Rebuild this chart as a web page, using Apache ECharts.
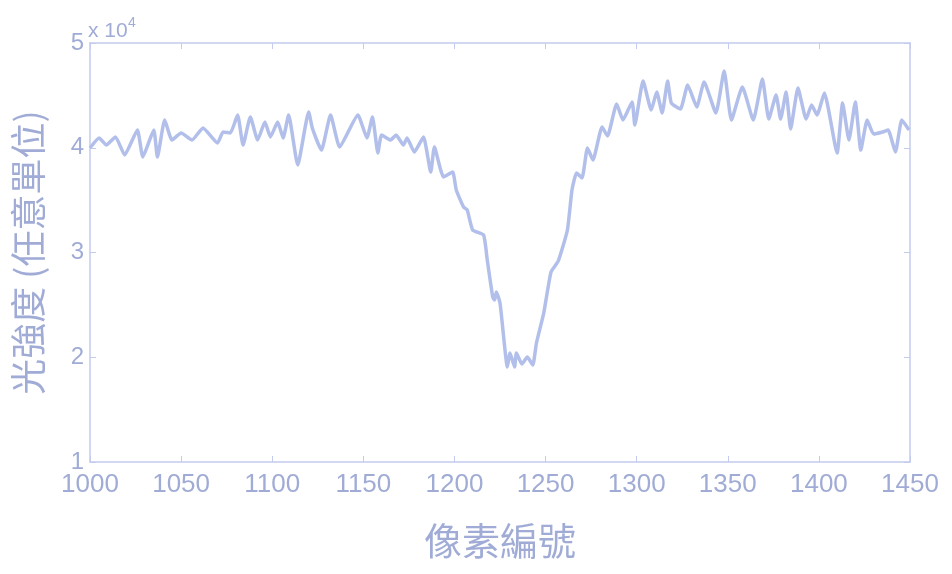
<!DOCTYPE html>
<html>
<head>
<meta charset="utf-8">
<script src="https://cdn.jsdelivr.net/npm/echarts@6/dist/echarts.min.js"></script>
<style>
html,body{margin:0;padding:0;background:#fff;}
#chart{width:952px;height:574px;}
</style>
</head>
<body>
<div id="chart"></div>
<script>
// pixel index (x) and light intensity (y, arbitrary units)
const pixelIndex = [1000,1005,1009,1014,1019,1026,1029,1035,1037,1041,1045,1050,1056,1062,1070,1073,1077,1081,1084,1088,1092,1096,1099,1103,1106,1109,1114,1120,1122,1127,1132,1137,1147,1152,1155,1158,1160,1165,1168,1172,1174,1178,1183,1187,1189,1194,1199,1201,1205,1207,1210,1216,1218,1221,1222,1223,1225,1227,1229,1230.5,1233,1234,1237,1240,1243,1245,1249,1253,1257,1262,1264.5,1267,1270,1273,1276,1281,1284,1289,1292.5,1297.5,1299,1303.5,1308,1311,1314,1317,1319,1324,1328,1333,1337,1343.5,1348,1352,1358,1364,1369,1372.5,1376.5,1379,1382,1384.5,1388.5,1393,1396,1399,1403,1410,1413,1416.5,1420,1423,1426.5,1430,1435,1438,1442,1445.5,1449.5];
const intensity = [39980,40930,40260,41030,39310,41690,39120,41690,39120,42650,40740,41410,40740,41890,40450,41500,41410,43130,40260,42940,40740,42460,41030,42460,40930,43130,38350,43410,41890,39780,43130,40070,43130,40930,42940,39500,41220,40740,41220,40260,40930,39590,41030,37680,40070,37210,37680,35970,34340,34060,32150,31670,29280,25750,25460,26230,25180,21930,19070,20400,19070,20400,19350,20020,19260,21360,24220,28140,29190,32150,35970,37590,37110,39980,38830,41980,41120,44180,42650,44370,42170,46370,43600,45320,43320,46370,44270,43700,45990,43890,46280,43320,47330,42650,45800,42650,46560,42740,45040,42740,45320,41790,45700,42740,44080,43130,45230,39500,44270,40740,44370,39780,42650,41310,41500,41690,39590,42650,41690];

const xTicks = {min:1000, max:1450, interval:50};
const yTicks = {min:10000, max:50000, interval:10000};

const data = pixelIndex.map((x,i)=>[x,intensity[i]]);
const textColor = '#a0acd6';
const axisColor = '#c3cbee';
const lineColor = '#b2bfea';
const font = 'Liberation Sans, Arial, sans-serif';
const cjk = 'Noto Sans CJK TC, Noto Sans CJK SC, sans-serif';

const chart = echarts.init(document.getElementById('chart'));
chart.setOption({
  animation:false,
  backgroundColor:'#ffffff',
  grid:{left:90,right:42,top:43,bottom:112,containLabel:false},
  xAxis:[{
    type:'value', min:xTicks.min, max:xTicks.max, interval:xTicks.interval,
    name:'像素編號', nameLocation:'middle', nameGap:60,
    nameTextStyle:{color:textColor,fontSize:38,fontFamily:cjk},
    axisLine:{show:true,lineStyle:{color:axisColor,width:1.5}},
    axisTick:{show:true,inside:true,length:6,lineStyle:{color:axisColor}},
    axisLabel:{color:textColor,fontSize:26,fontFamily:font,margin:10,formatter:v=>String(v)},
    splitLine:{show:false}
  },{
    type:'value', position:'top', min:xTicks.min, max:xTicks.max, interval:xTicks.interval,
    axisLine:{show:true,lineStyle:{color:axisColor,width:1.5}},
    axisTick:{show:true,inside:true,length:6,lineStyle:{color:axisColor}},
    axisLabel:{show:false}, splitLine:{show:false}
  }],
  yAxis:[{
    type:'value', min:yTicks.min, max:yTicks.max, interval:yTicks.interval,
    name:'光強度 (任意單位)', nameLocation:'middle', nameGap:44,
    nameTextStyle:{color:textColor,fontSize:36,fontFamily:cjk},
    axisLine:{show:true,lineStyle:{color:axisColor,width:1.5}},
    axisTick:{show:true,inside:true,length:6,lineStyle:{color:axisColor}},
    axisLabel:{color:textColor,fontSize:24,fontFamily:font,margin:6,formatter:v=>String(v/10000)},
    splitLine:{show:false}
  },{
    type:'value', position:'right', min:yTicks.min, max:yTicks.max, interval:yTicks.interval,
    axisLine:{show:true,lineStyle:{color:axisColor,width:1.5}},
    axisTick:{show:true,inside:true,length:6,lineStyle:{color:axisColor}},
    axisLabel:{show:false}, splitLine:{show:false}
  }],
  graphic:[{
    type:'text', left:88, top:21,
    style:{text:'x 10', fill:textColor, font:'21px Liberation Sans, Arial, sans-serif'}
  },{
    type:'text', left:128, top:16,
    style:{text:'4', fill:textColor, font:'14px Liberation Sans, Arial, sans-serif'}
  }],
  series:[{
    type:'line', xAxisIndex:0, yAxisIndex:0, data:data,
    showSymbol:false, smooth:0.15,
    lineStyle:{color:lineColor,width:3.5}
  }]
});
</script>
</body>
</html>
